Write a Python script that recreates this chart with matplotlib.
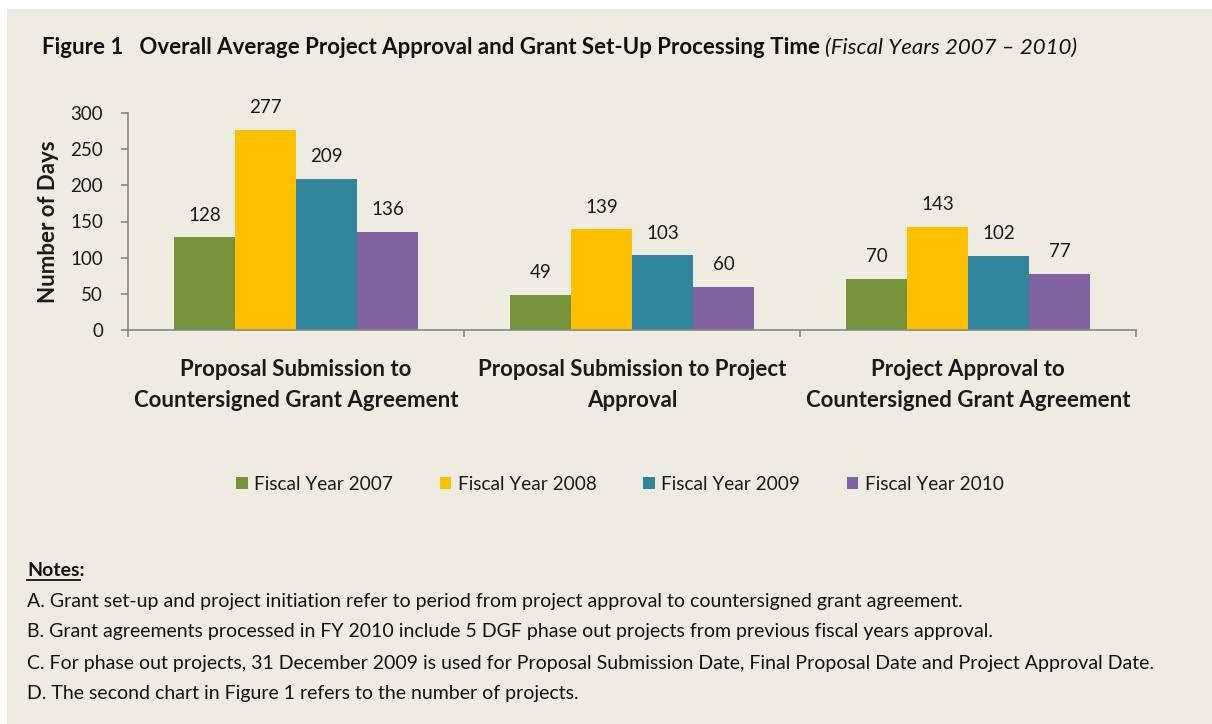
import matplotlib.pyplot as plt
import matplotlib.transforms as mtransforms
import numpy as np
from matplotlib.patches import Rectangle, Patch
from matplotlib.lines import Line2D

plt.rcParams['font.family'] = ['Lato', 'DejaVu Sans']

categories = ['Proposal Submission to\nCountersigned Grant Agreement',
              'Proposal Submission to Project\nApproval',
              'Project Approval to\nCountersigned Grant Agreement']
series = ['Fiscal Year 2007', 'Fiscal Year 2008', 'Fiscal Year 2009', 'Fiscal Year 2010']
fy2007 = [128, 49, 70]
fy2008 = [277, 139, 143]
fy2009 = [209, 103, 102]
fy2010 = [136, 60, 77]
colors = ['#77933C', '#FFC000', '#31859C', '#8064A2']
notes = ['A. Grant set-up and project initiation refer to period from project approval to countersigned grant agreement.',
         'B. Grant agreements processed in FY 2010 include 5 DGF phase out projects from previous fiscal years approval.',
         'C. For phase out projects, 31 December 2009 is used for Proposal Submission Date, Final Proposal Date and Project Approval Date.',
         'D. The second chart in Figure 1 refers to the number of projects.']

W, H = 1212, 724
fig = plt.figure(figsize=(W / 100, H / 100), dpi=100, facecolor='white')
bg = '#EEECE1'
fig.patches.append(Rectangle((7 / W, 0), 1 - 7 / W, 1 - 9 / H, transform=fig.transFigure,
                             facecolor=bg, edgecolor='none', zorder=-10))

def fx(px):
    return px / W

def fy(py):
    return 1 - py / H

ax = fig.add_axes([fx(128), fy(330), fx(1136) - fx(128), fy(113) - fy(330)])
ax.set_facecolor('none')

x = np.arange(len(categories)) + 0.5
bw = 61 / 336
all_vals = [fy2007, fy2008, fy2009, fy2010]
for i, (vals, c, name) in enumerate(zip(all_vals, colors, series)):
    pos = x + (i - 1.5) * bw
    bars = ax.bar(pos, vals, bw, color=c, label=name, edgecolor='none')
    for b, v in zip(bars, vals):
        ax.annotate(str(v), (b.get_x() + b.get_width() / 2, v), xytext=(0, 10),
                    textcoords='offset points', ha='center', va='bottom', fontsize=13.5,
                    color='#1a1a1a')

ax.set_xlim(0, 3)
ax.set_ylim(0, 300)
ax.set_yticks(range(0, 301, 50))
ax.set_xticks([0, 1, 2, 3])
ax.set_xticklabels([])
for s in ['top', 'right']:
    ax.spines[s].set_visible(False)
for s in ['left', 'bottom']:
    ax.spines[s].set_color('#868686')
    ax.spines[s].set_linewidth(1.2)
ax.tick_params(axis='both', colors='#868686', length=5, width=1.2, direction='out')
ax.tick_params(axis='y', labelcolor='#1a1a1a', labelsize=13.5, pad=13)
ax.set_ylabel('Number of Days', fontsize=16, fontweight='bold', color='#1a1a1a', labelpad=8)

blend = mtransforms.blended_transform_factory(ax.transData, fig.transFigure)
for xc, lab in zip(x, categories):
    ax.text(xc, fy(385), lab, transform=blend, ha='center', va='center', fontsize=16,
            fontweight='bold', color='#1a1a1a', linespacing=1.6)

handles = [Patch(facecolor=c, edgecolor='none') for c in colors]
fig.legend(handles, series, loc='center', bbox_to_anchor=(fx(620), fy(484)), ncol=4,
           frameon=False, fontsize=13.7, handlelength=0.6, handleheight=0.6,
           handletextpad=0.35, columnspacing=2.45, labelcolor='#1a1a1a')

t1 = fig.text(fx(42), fy(48), 'Figure 1   Overall Average Project Approval and Grant Set-Up Processing Time',
              fontsize=16, fontweight='bold', va='center', ha='left', color='#111111')
fig.canvas.draw()
r = fig.canvas.get_renderer()
bb = t1.get_window_extent(r)
fig.text(bb.x1 / W + fx(5), fy(48), '(Fiscal Years 2007 \u2013 2010)', fontsize=16,
         fontstyle='italic', va='center', ha='left', color='#111111')

# underline only the word "Notes"
tmp = fig.text(fx(27), fy(570), 'Notes', fontsize=14, fontweight='bold', va='center', ha='left')
fig.canvas.draw()
nb = tmp.get_window_extent(r)
tmp.remove()
fig.text(fx(27), fy(570), 'Notes:', fontsize=14, fontweight='bold', va='center', ha='left',
         color='#111111')
fig.lines.append(Line2D([nb.x0 / W, nb.x1 / W], [(nb.y0 - 1) / H] * 2, transform=fig.transFigure,
                        color='#111111', linewidth=1.3))

for i, line in enumerate(notes):
    fig.text(fx(27), fy(601 + 31 * i), line, fontsize=14, va='center', ha='left', color='#111111')

fig.savefig('out.png', dpi=100, facecolor='white')
